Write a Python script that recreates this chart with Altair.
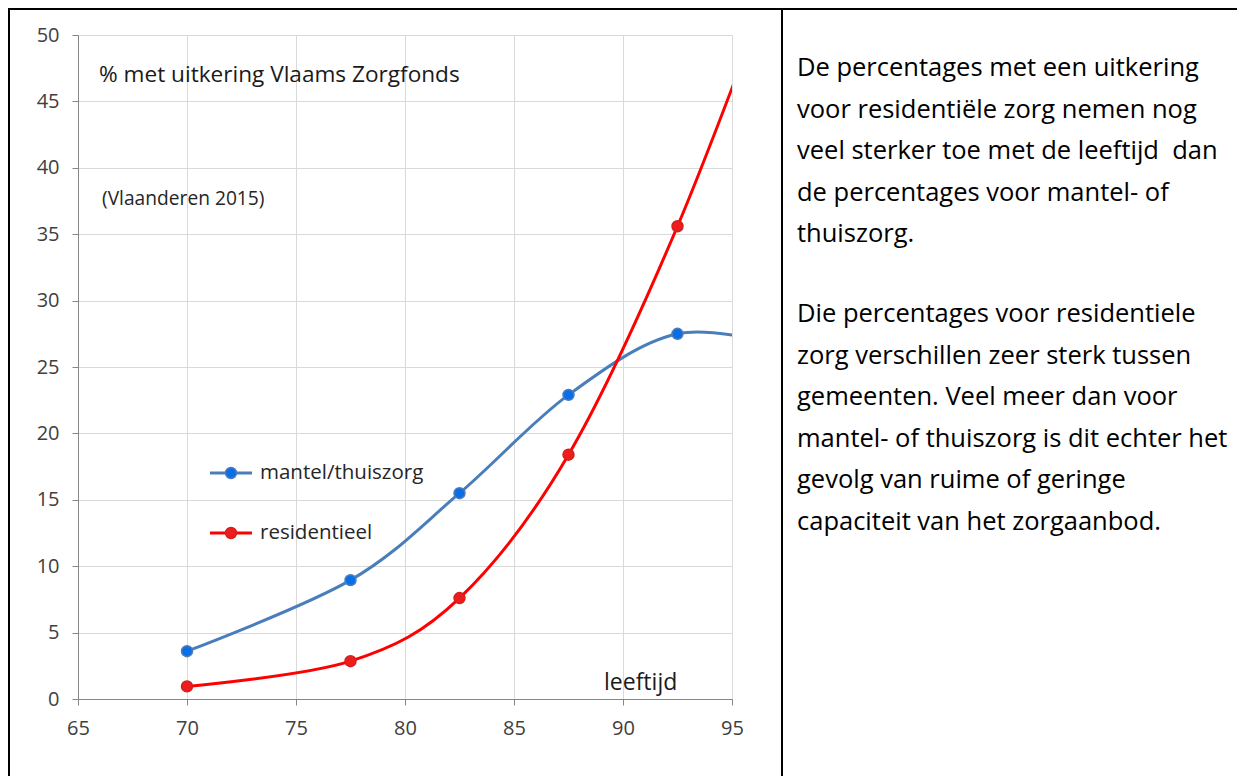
import altair as alt
import pandas as pd

# ---- data ----
ages = [70, 77.5, 82.5, 87.5, 92.5]
mantel = [3.6, 8.95, 15.5, 22.9, 27.5]
residentieel = [0.95, 2.85, 7.6, 18.4, 35.6]
# hidden continuation point (95+ group) whose curve runs off the right edge
tail_age = 97.5
mantel_tail = 26.5
residentieel_tail = 57.0

series_names = ["mantel/thuiszorg", "residentieel"]
line_colors = ["#4a7ebb", "#ff0000"]
marker_fill = ["#0a6ee6", "#ee1c1c"]
marker_stroke = ["#4a7ebb", "#d42020"]

x_ticks = [65, 70, 75, 80, 85, 90, 95]
y_ticks = [0, 5, 10, 15, 20, 25, 30, 35, 40, 45, 50]

title_text = "% met uitkering Vlaams Zorgfonds"
sub_text = "(Vlaanderen 2015)"
axis_text = "leeftijd"
para1 = ["De percentages met een uitkering",
         "voor residentiële zorg nemen nog",
         "veel sterker toe met de leeftijd\u00a0 dan",
         "de percentages voor mantel- of",
         "thuiszorg."]
para2 = ["Die percentages voor residentiele",
         "zorg verschillen zeer sterk tussen",
         "gemeenten. Veel meer dan voor",
         "mantel- of thuiszorg is dit echter het",
         "gevolg van ruime of geringe",
         "capaciteit van het zorgaanbod."]

FONT = "Open Sans"

pts = pd.DataFrame({
    "age": ages * 2,
    "pct": mantel + residentieel,
    "series": [series_names[0]] * len(ages) + [series_names[1]] * len(ages),
})
lines = pd.DataFrame({
    "age": ages + [tail_age] + ages + [tail_age],
    "pct": mantel + [mantel_tail] + residentieel + [residentieel_tail],
    "series": [series_names[0]] * (len(ages) + 1) + [series_names[1]] * (len(ages) + 1),
})

xs = alt.Scale(domain=[65, 95], nice=False, zero=False)
ys = alt.Scale(domain=[0, 50], nice=False)

axis_style = dict(title=None, grid=True, domainColor="#868686", tickColor="#868686",
                  tickSize=6, gridColor="#d9d9d9", labelFontSize=20, labelColor="#404040",
                  labelFont=FONT, labelPadding=13, format="d", labelFlush=False)
x_enc = alt.X("age:Q", scale=xs, axis=alt.Axis(values=x_ticks, **axis_style))
y_enc = alt.Y("pct:Q", scale=ys, axis=alt.Axis(values=y_ticks, **axis_style))

line_layer = alt.Chart(lines).mark_line(
    interpolate="cardinal", tension=0, clip=True, strokeWidth=3
).encode(
    x=x_enc, y=y_enc,
    color=alt.Color("series:N", scale=alt.Scale(domain=series_names, range=line_colors), legend=None),
    detail="series:N",
)

point_layer = alt.Chart(pts).mark_point(filled=True, size=120, strokeWidth=1.5, opacity=1).encode(
    x="age:Q", y="pct:Q",
    fill=alt.Fill("series:N", scale=alt.Scale(domain=series_names, range=marker_fill), legend=None),
    stroke=alt.Stroke("series:N", scale=alt.Scale(domain=series_names, range=marker_stroke), legend=None),
)

def label(txt, x, y, size, color="#000000"):
    return alt.Chart(pd.DataFrame({"t": [txt]})).mark_text(
        align="left", baseline="middle", font=FONT, fontSize=size, color=color
    ).encode(text="t:N", x=alt.value(x), y=alt.value(y))

def para(lines_list, x, y):
    return alt.Chart(pd.DataFrame({"t": ["\n".join(lines_list)]})).mark_text(
        align="left", baseline="middle", font=FONT, fontSize=25.5, color="#000000",
        lineBreak="\n", lineHeight=41.5
    ).encode(text="t:N", x=alt.value(x), y=alt.value(y))

def rule(x, x2, y, y2, color="#000000", width=2):
    return alt.Chart(pd.DataFrame({"a": [0]})).mark_rule(color=color, strokeWidth=width).encode(
        x=alt.value(x), x2=alt.value(x2), y=alt.value(y), y2=alt.value(y2))

# manual legend (line + marker + label), one entry per series
legend_layers = []
for i, name in enumerate(series_names):
    yy = 438 + 60 * i
    legend_layers.append(rule(132, 174, yy, yy, line_colors[i], 3))
    legend_layers.append(
        alt.Chart(pd.DataFrame({"s": [name]})).mark_point(
            filled=True, size=120, strokeWidth=1.5, opacity=1,
            fill=marker_fill[i], stroke=marker_stroke[i]
        ).encode(x=alt.value(153), y=alt.value(yy))
    )
    legend_layers.append(
        alt.Chart(pd.DataFrame({"s": [name]})).mark_text(
            align="left", baseline="middle", font=FONT, fontSize=20.5, color="#262626"
        ).encode(text="s:N", x=alt.value(182), y=alt.value(yy))
    )

chart = alt.layer(
    rule(-69, -69, -27, 741),
    rule(-70, 1159, -26, -26),
    rule(704, 704, -27, 741),
    line_layer,
    point_layer,
    *legend_layers,
    label(title_text, 21, 40, 22.6, "#1a1a1a"),
    label(sub_text, 24, 164, 19.2, "#262626"),
    label(axis_text, 526, 648, 23, "#1a1a1a"),
    para(para1, 719, 33),
    para(para2, 719, 279),
).properties(
    width=654, height=664,
    padding={"left": 70, "top": 27, "right": 505, "bottom": 77},
    autosize=alt.AutoSizeParams(type="none"),
).configure_view(stroke=None)

chart.save("out.html", embed_options={"renderer": "svg", "actions": False})
